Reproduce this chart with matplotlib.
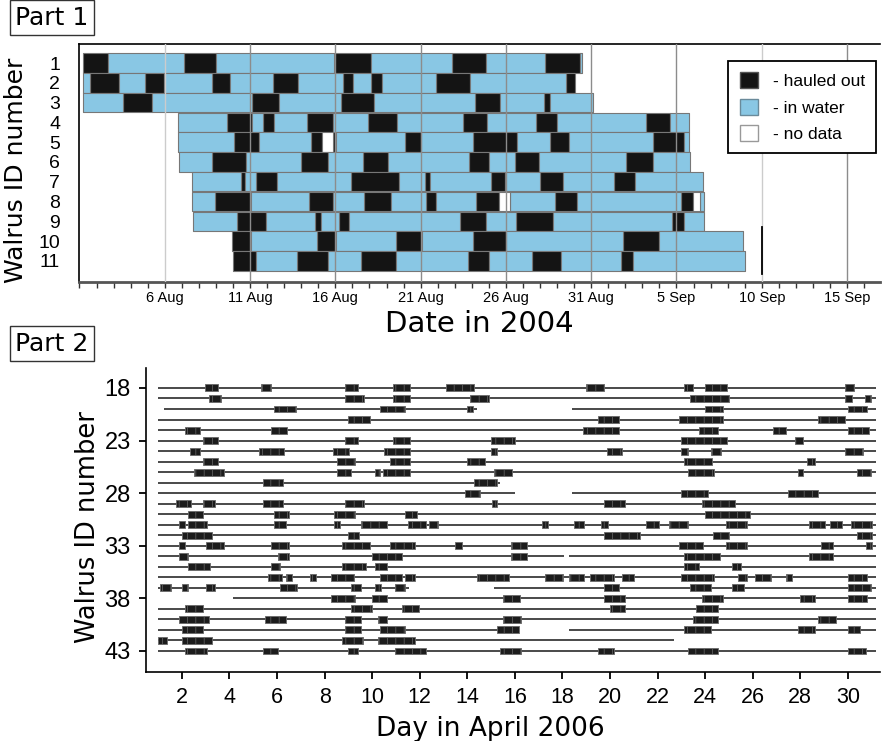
import datetime as dt
import matplotlib
matplotlib.use("Agg")
import matplotlib.pyplot as plt
from matplotlib.patches import Patch

plt.rcParams["hatch.linewidth"] = 0.5

TICK_FONT = "Liberation Sans"
LABEL_FONT = "DejaVu Sans"

HAULED = "#141414"
WATER = "#89c7e4"
NODATA = "#ffffff"
state_colour = {"K": HAULED, "B": WATER, "N": NODATA}

# ---- Part 1: 2004 tags, segment edges in days after 1 Aug 2004 ----
# K = hauled out, B = in water, N = no data
bounds_1 = [0.18, 1.70, 6.10, 8.03, 14.92, 17.12, 21.85, 23.86, 27.27, 29.36, 29.46]
states_1 = "KBKBKBKBKB"
bounds_2 = [0.18, 0.61, 2.33, 3.83, 4.96, 7.75, 8.83, 11.34, 12.81, 15.47, 16.03,
            17.12, 17.71, 20.91, 22.92, 28.53, 29.07]
states_2 = "BKBKBKBKBKBKBKBK"
bounds_3 = [0.18, 2.56, 4.24, 10.10, 11.70, 15.31, 17.26, 23.16, 24.68, 27.26, 27.61, 30.09]
states_3 = "BKBKBKBKBKB"
bounds_4 = [5.75, 8.67, 10.10, 10.76, 11.43, 13.36, 14.86, 16.93, 18.59, 22.50, 23.90,
            26.74, 28.00, 33.23, 34.64, 35.71]
states_4 = "BKBKBKBKBKBKBKB"
bounds_5 = [5.78, 9.06, 10.52, 13.55, 14.24, 14.86, 15.06, 19.09, 20.05, 23.06, 25.66,
            27.61, 28.68, 33.60, 35.47, 35.71]
states_5 = "BKBKNKBKBKBKBKB"
bounds_6 = [5.84, 7.75, 9.75, 12.97, 14.56, 16.60, 18.10, 22.82, 23.99, 25.56, 26.96,
            32.06, 33.60, 35.81]
states_6 = "BKBKBKBKBKBKB"
bounds_7 = [6.57, 9.49, 9.73, 10.33, 11.60, 15.89, 18.72, 20.23, 20.54, 24.15, 24.97,
            27.02, 28.33, 31.36, 32.59, 36.53]
states_7 = "BKBKBKBKBKBKBKB"
bounds_8 = [6.62, 7.95, 10.04, 13.45, 14.88, 16.67, 18.24, 20.29, 20.93, 23.22, 24.58,
            25.22, 27.86, 29.17, 35.28, 35.94, 36.35, 36.59]
states_8 = "BKBKBKBKBKNBKBKNB"
bounds_9 = [6.68, 9.26, 10.96, 13.80, 14.14, 15.21, 15.80, 22.28, 23.84, 25.62, 27.74,
            34.73, 35.47, 36.64]
states_9 = "BKBKBKBKBKBKB"
bounds_10 = [8.93, 10.06, 13.94, 15.06, 18.57, 20.09, 23.08, 25.03, 31.87, 33.95, 38.89]
states_10 = "KBKBKBKBKB"
bounds_11 = [9.02, 10.33, 12.77, 14.59, 16.52, 18.53, 22.79, 23.99, 26.54, 28.23, 31.77,
             32.43, 38.99]
states_11 = "KBKBKBKBKBKB"

p1_bounds = [bounds_1, bounds_2, bounds_3, bounds_4, bounds_5, bounds_6,
             bounds_7, bounds_8, bounds_9, bounds_10, bounds_11]
p1_states = [states_1, states_2, states_3, states_4, states_5, states_6,
             states_7, states_8, states_9, states_10, states_11]

date_ticks = [5, 10, 15, 20, 25, 30, 35, 40, 45]
light_grid = [5, 40]

# ---- Part 2: 2006 tags, haul-out bouts in day of April 2006 ----
w18 = [(2.98, 3.53), (5.34, 5.74), (8.84, 9.40), (10.87, 11.61), (13.12, 14.27),
       (19.00, 19.76), (23.13, 23.51), (24.00, 24.91), (29.88, 30.25)]
w19 = [(3.12, 3.64), (8.84, 9.66), (10.87, 11.61), (14.10, 14.90), (23.37, 25.02),
       (29.88, 30.16), (30.74, 30.99)]
w20 = [(5.87, 6.79), (10.35, 11.40), (13.99, 14.24), (24.00, 24.77), (29.99, 30.79)]
w21 = [(8.98, 9.91), (19.49, 20.39), (22.88, 24.77), (28.76, 29.88)]
w22 = [(2.14, 2.77), (5.74, 6.44), (18.86, 20.39), (23.76, 24.52), (26.87, 27.39),
       (29.99, 30.88)]
w23 = [(2.90, 3.53), (8.84, 9.40), (10.87, 11.61), (15.00, 15.99), (22.99, 24.91),
       (27.78, 28.13)]
w24 = [(2.35, 2.77), (5.25, 6.30), (8.37, 9.03), (10.49, 11.61), (15.00, 15.25),
       (19.87, 20.50), (22.99, 23.26), (24.25, 24.66), (29.88, 30.65)]
w25 = [(2.90, 3.53), (8.51, 9.26), (10.75, 11.61), (13.99, 14.76), (23.13, 24.28),
       (28.27, 28.62)]
w26 = [(2.49, 3.75), (8.51, 9.12), (10.12, 10.35), (10.45, 11.61), (15.11, 15.88),
       (23.26, 24.38), (27.89, 28.13), (30.37, 30.99)]
w27 = [(5.39, 6.27), (14.27, 15.25)]
w28 = [(13.90, 14.52), (22.99, 24.14), (27.50, 28.76)]
w29 = [(1.75, 2.38), (2.90, 3.39), (5.39, 6.27), (8.84, 9.66), (15.04, 15.25),
       (19.76, 20.64), (23.86, 25.26)]
w30 = [(2.27, 2.90), (5.87, 6.51), (8.40, 9.26), (11.38, 11.89), (24.00, 25.89)]
w31 = [(1.89, 2.14), (2.27, 3.04), (5.87, 6.39), (8.40, 8.65), (9.51, 10.63),
       (11.52, 12.27), (12.38, 12.77), (17.14, 17.38), (18.50, 18.89), (19.63, 19.90),
       (21.51, 22.04), (22.50, 23.26), (24.88, 25.78), (28.38, 29.04), (29.25, 29.76),
       (30.13, 31.02)]
w32 = [(2.00, 3.26), (8.98, 9.45), (19.76, 21.27), (24.35, 25.02), (30.37, 31.02)]
w33 = [(1.89, 2.14), (3.01, 3.78), (5.74, 6.51), (8.75, 9.91), (10.75, 11.78),
       (13.50, 13.76), (15.85, 16.51), (22.88, 23.89), (24.88, 25.78), (28.87, 29.39),
       (30.76, 31.02)]
w34 = [(1.89, 2.27), (6.02, 6.51), (10.01, 11.26), (15.85, 16.51), (23.13, 24.63),
       (28.38, 29.39)]
w35 = [(2.27, 3.18), (5.74, 6.13), (8.75, 9.75), (10.12, 10.63), (23.13, 23.76),
       (25.12, 25.50)]
w36 = [(5.62, 6.23), (6.37, 6.65), (7.37, 7.65), (8.26, 9.24), (10.35, 11.26),
       (11.38, 11.78), (14.39, 15.74), (17.25, 18.01), (18.26, 18.89), (19.14, 20.15),
       (20.50, 21.02), (22.99, 24.38), (25.37, 25.75), (26.10, 26.76), (27.39, 27.64),
       (29.99, 30.79)]
w37 = [(1.09, 1.54), (2.00, 2.27), (3.01, 3.39), (6.13, 6.86), (9.12, 9.51),
       (10.12, 10.38), (10.98, 11.40), (19.76, 20.39), (23.37, 24.25), (25.12, 25.64),
       (29.99, 30.99)]
w38 = [(8.26, 9.26), (9.98, 10.63), (15.50, 16.23), (19.76, 20.64), (23.86, 24.74),
       (27.99, 28.62), (29.99, 30.79)]
w39 = [(2.13, 2.90), (9.12, 10.01), (11.26, 11.99), (20.01, 20.64), (23.62, 24.52)]
w40 = [(1.89, 3.15), (5.48, 6.39), (8.84, 9.51), (10.24, 10.63), (15.50, 16.26),
       (23.48, 24.52), (28.76, 29.50)]
w41 = [(2.00, 2.90), (8.84, 9.51), (10.35, 11.40), (15.25, 16.16), (23.13, 24.25),
       (27.89, 28.62), (30.02, 30.51)]
w42 = [(0.98, 1.37), (2.00, 3.26), (8.75, 9.63), (10.24, 11.78)]
w43 = [(2.13, 3.04), (5.39, 6.02), (8.98, 9.40), (10.98, 12.27), (15.36, 16.26),
       (19.49, 20.15), (23.26, 24.52), (29.99, 30.76)]

p2_ids = list(range(18, 44))
p2_bouts = [w18, w19, w20, w21, w22, w23, w24, w25, w26, w27, w28, w29, w30,
            w31, w32, w33, w34, w35, w36, w37, w38, w39, w40, w41, w42, w43]

# tag transmission periods (default: whole record)
full_track = [(1.0, 31.2)]
tracks = {
    20: [(1.26, 14.41), (18.40, 31.2)],
    27: [(1.0, 15.39)],
    28: [(1.0, 16.02), (18.40, 31.2)],
    34: [(1.0, 18.05), (18.26, 31.2)],
    37: [(1.0, 11.54), (15.11, 31.2)],
    38: [(4.13, 31.2)],
    41: [(1.0, 16.16), (18.26, 31.2)],
    42: [(1.0, 22.67)],
}

april_ticks = list(range(2, 31, 2))
id_ticks = [18, 23, 28, 33, 38, 43]

fig = plt.figure(figsize=(8.82, 7.41), dpi=100)
ax1 = fig.add_axes([0.0901, 0.6198, 0.9076, 0.3208])
ax2 = fig.add_axes([0.1655, 0.0931, 0.8322, 0.4103])

# ---------------- Part 1 ----------------
for row, (b, s) in enumerate(zip(p1_bounds, p1_states), start=1):
    for code in "KBN":
        segs = [(b[j], b[j + 1] - b[j]) for j, c in enumerate(s) if c == code]
        if segs:
            ax1.broken_barh(segs, (row - 0.49, 0.98), facecolors=state_colour[code],
                            edgecolor="#777777", linewidth=0.8, zorder=2)

for d in date_ticks:
    ax1.axvline(d, color="#cccccc" if d in light_grid else "#8c8c8c",
                lw=1.0, zorder=3)
ax1.plot([40.04, 40.04], [9.3, 11.65], color="black", lw=1.3, zorder=4)

ax1.set_xlim(0.05, 46.93)
ax1.set_ylim(12.05, 0.04)
start = dt.date(2004, 8, 1)
tick_dates = [start + dt.timedelta(days=d) for d in date_ticks]
ax1.set_xticks(date_ticks)
ax1.set_xticklabels([f"{t.day} {t:%b}" for t in tick_dates],
                    fontsize=10.5, fontfamily=TICK_FONT)
ax1.set_xticks(range(0, 47), minor=True)
ax1.tick_params(axis="x", which="both", length=4, width=1, color="#333333",
                direction="out", pad=3)
ax1.set_yticks(range(1, 12))
ax1.set_yticklabels([str(i) for i in range(1, 12)], fontsize=14,
                    fontfamily=TICK_FONT)
ax1.tick_params(axis="y", length=0, pad=14)
ax1.spines["right"].set_visible(False)
ax1.spines["bottom"].set_color("#555555")
ax1.spines["bottom"].set_linewidth(2.0)
ax1.spines["left"].set_linewidth(1.2)
ax1.spines["top"].set_linewidth(1.2)

ax1.set_xlabel("Date in 2004", fontsize=21, fontfamily=LABEL_FONT)
ax1.xaxis.set_label_coords(0.5, -0.12)
ax1.set_ylabel("Walrus ID number", fontsize=18, fontfamily=LABEL_FONT)
ax1.yaxis.set_label_coords(-0.064, 0.47)

handles = [Patch(facecolor=HAULED, edgecolor="#555555", label="- hauled out"),
           Patch(facecolor=WATER, edgecolor="#6a8a9a", label="- in water"),
           Patch(facecolor=NODATA, edgecolor="#999999", label="- no data")]
leg = ax1.legend(handles=handles, loc="upper right", bbox_to_anchor=(0.995, 0.929),
                 borderaxespad=0, prop={"family": TICK_FONT, "size": 12.5},
                 handlelength=1.05, handleheight=1.05, handletextpad=0.85,
                 labelspacing=0.55, borderpad=0.65, fancybox=False, framealpha=1,
                 edgecolor="black")
leg.get_frame().set_linewidth(1.3)
leg.set_zorder(5)

# ---------------- Part 2 ----------------
for wid, bouts in zip(p2_ids, p2_bouts):
    for t0, t1 in tracks.get(wid, full_track):
        ax2.hlines(wid, t0, t1, color="#3a3a3a", lw=1.3, zorder=1)
    segs = [(a, e - a) for a, e in bouts]
    ax2.broken_barh(segs, (wid - 0.33, 0.66), facecolors="#1c1c1c",
                    edgecolor="#6a6a6a", linewidth=0.6, hatch="||", zorder=2)

ax2.set_xlim(0.49, 31.35)
ax2.set_ylim(45.0, 16.1)
ax2.set_xticks(april_ticks)
ax2.set_xticklabels([str(d) for d in april_ticks], fontsize=15.5,
                    fontfamily=TICK_FONT)
ax2.set_yticks(id_ticks)
ax2.set_yticklabels([str(i) for i in id_ticks], fontsize=17,
                    fontfamily=TICK_FONT)
ax2.tick_params(axis="x", length=5, width=1.3, direction="out", pad=6)
ax2.tick_params(axis="y", length=5, width=1.3, direction="out", pad=6)
for side in ("top", "right"):
    ax2.spines[side].set_visible(False)
for side in ("left", "bottom"):
    ax2.spines[side].set_linewidth(1.2)

ax2.set_xlabel("Day in April 2006", fontsize=19, fontfamily=LABEL_FONT)
ax2.xaxis.set_label_coords(0.469, -0.145)
ax2.set_ylabel("Walrus ID number", fontsize=18.5, fontfamily=LABEL_FONT)
ax2.yaxis.set_label_coords(-0.061, 0.478)

box = dict(boxstyle="square,pad=0.22", facecolor="white", edgecolor="#333333", lw=1)
fig.text(0.059, 0.976, "Part 1", fontsize=18, fontfamily=LABEL_FONT,
         ha="center", va="center", bbox=box)
fig.text(0.059, 0.536, "Part 2", fontsize=18, fontfamily=LABEL_FONT,
         ha="center", va="center", bbox=box)

fig.savefig("out.png", dpi=100)
